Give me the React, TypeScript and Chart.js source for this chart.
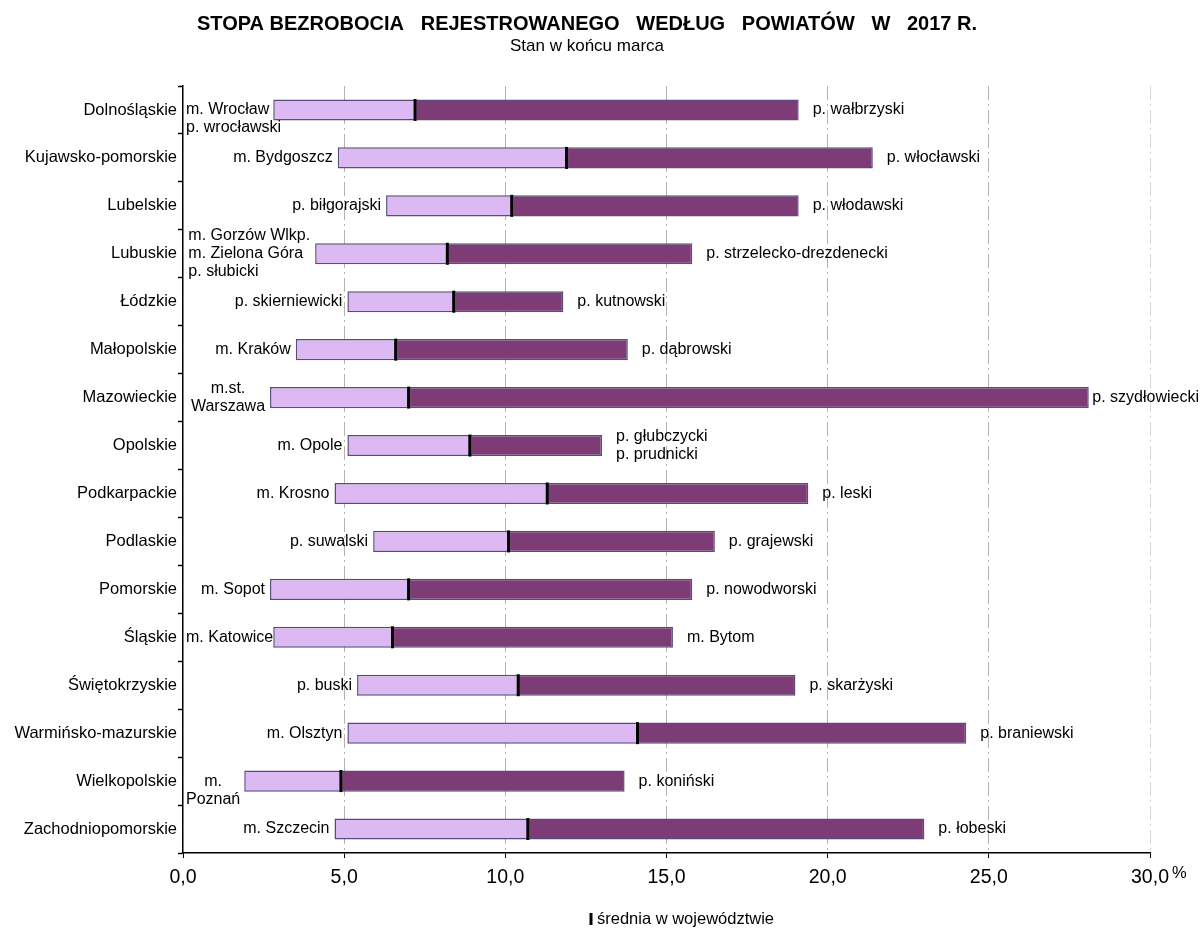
import React, { useEffect, useRef } from 'react';
import { Chart, registerables } from 'chart.js';

Chart.register(...registerables);

const categories = [
  'Dolnośląskie', 'Kujawsko-pomorskie', 'Lubelskie', 'Lubuskie', 'Łódzkie', 'Małopolskie',
  'Mazowieckie', 'Opolskie', 'Podkarpackie', 'Podlaskie', 'Pomorskie', 'Śląskie',
  'Świętokrzyskie', 'Warmińsko-mazurskie', 'Wielkopolskie', 'Zachodniopomorskie',
];
const minValues = [2.8, 4.8, 6.3, 4.1, 5.1, 3.5, 2.7, 5.1, 4.7, 5.9, 2.7, 2.8, 5.4, 5.1, 1.9, 4.7];
const avgValues = [7.2, 11.9, 10.2, 8.2, 8.4, 6.6, 7.0, 8.9, 11.3, 10.1, 7.0, 6.5, 10.4, 14.1, 4.9, 10.7];
const maxValues = [19.1, 21.4, 19.1, 15.8, 11.8, 13.8, 28.1, 13.0, 19.4, 16.5, 15.8, 15.2, 19.0, 24.3, 13.7, 23.0];
const minLabels = [
  'm. Wrocław\np. wrocławski', 'm. Bydgoszcz', 'p. biłgorajski',
  'm. Gorzów Wlkp.\nm. Zielona Góra\np. słubicki', 'p. skierniewicki', 'm. Kraków',
  'm.st.\nWarszawa', 'm. Opole', 'm. Krosno', 'p. suwalski', 'm. Sopot', 'm. Katowice',
  'p. buski', 'm. Olsztyn', 'm.\nPoznań', 'm. Szczecin',
];
const maxLabels = [
  'p. wałbrzyski', 'p. włocławski', 'p. włodawski', 'p. strzelecko-drezdenecki', 'p. kutnowski',
  'p. dąbrowski', 'p. szydłowiecki', 'p. głubczycki\np. prudnicki', 'p. leski', 'p. grajewski',
  'p. nowodworski', 'm. Bytom', 'p. skarżyski', 'p. braniewski', 'p. koniński', 'p. łobeski',
];
const titleText = 'STOPA BEZROBOCIA   REJESTROWANEGO   WEDŁUG   POWIATÓW   W   2017 R.';
const subtitleText = 'Stan w końcu marca';
const avgLegendText = 'średnia w województwie';
const unitText = '%';

const FONT = "'Liberation Sans', Arial, Helvetica, sans-serif";
const LIGHT = '#dcb9f2';
const DARK = '#7e3c77';
const BORDER = '#5a4b7d';

const labelPlugin = {
  id: 'barLabels',
  afterLayout(chart: any) {
    // title block is centred slightly right of the canvas centre
    chart.boxes.forEach((b: any) => {
      if (b.options && (b.options.text === titleText || b.options.text === subtitleText)) b.left = 24;
    });
  },
  afterDatasetsDraw(chart: any) {
    const { ctx, chartArea } = chart;
    const x = chart.scales.x;
    const y = chart.scales.y;
    const lh = 18;
    ctx.save();
    ctx.font = `16px ${FONT}`;
    ctx.fillStyle = '#000';
    ctx.textBaseline = 'middle';
    ctx.textAlign = 'left';
    const drawBlock = (text: string, anchor: number, side: 'left' | 'right', yc: number) => {
      const lines = text.split('\n');
      const widths = lines.map((l) => ctx.measureText(l).width);
      const w = Math.max(...widths);
      const wrapped = lines.some((l) => !/^(m\.|p\.)/.test(l));
      let left: number;
      let clamped = false;
      if (side === 'left') {
        left = anchor - 5 - w;
        if (left < chartArea.left + 3) {
          left = chartArea.left + 3;
          clamped = true;
        }
      } else {
        left = anchor + 14;
        if (left + w > chart.width - 2) left = chart.width - 2 - w;
      }
      const n = lines.length;
      const y0 = clamped ? yc : yc - ((n - 1) * lh) / 2;
      lines.forEach((l, j) => {
        const lx = wrapped ? left + (w - widths[j]) / 2 : left;
        ctx.fillText(l, lx, y0 + j * lh);
      });
    };
    categories.forEach((_, i) => {
      const yc = y.getPixelForValue(i);
      drawBlock(minLabels[i], x.getPixelForValue(minValues[i]), 'left', yc);
      drawBlock(maxLabels[i], x.getPixelForValue(maxValues[i]), 'right', yc);
    });
    ctx.restore();
  },
  afterDraw(chart: any) {
    const { ctx } = chart;
    const x = chart.scales.x;
    ctx.save();
    ctx.fillStyle = '#000';
    ctx.textBaseline = 'middle';
    ctx.textAlign = 'left';
    // unit next to the last tick label
    ctx.font = `16.5px ${FONT}`;
    ctx.fillText(unitText, x.right + 22, 873);
    // legend for the average marker
    ctx.strokeStyle = '#000';
    ctx.lineWidth = 3;
    ctx.beginPath();
    ctx.moveTo(591, 913);
    ctx.lineTo(591, 925);
    ctx.stroke();
    ctx.fillText(avgLegendText, 597, 919);
    ctx.restore();
  },
};

export default function App() {
  const ref = useRef<HTMLCanvasElement | null>(null);

  useEffect(() => {
    if (!ref.current) return;
    Chart.defaults.font.family = FONT;
    Chart.defaults.color = '#000';
    const chart = new Chart(ref.current, {
      type: 'bar',
      data: {
        labels: categories,
        datasets: [
          {
            type: 'line',
            label: avgLegendText,
            data: avgValues,
            showLine: false,
            pointStyle: 'line',
            rotation: 90,
            pointRadius: 11,
            pointHoverRadius: 11,
            pointBorderWidth: 3,
            pointBorderColor: '#000',
            pointBackgroundColor: '#000',
            order: 0,
          } as any,
          {
            type: 'bar',
            label: 'minimum – średnia',
            data: minValues.map((v, i) => [v, avgValues[i]]),
            backgroundColor: LIGHT,
            borderColor: BORDER,
            borderWidth: 1.5,
            borderSkipped: false,
            grouped: false,
            barPercentage: 0.88,
            categoryPercentage: 0.5,
            order: 1,
          } as any,
          {
            type: 'bar',
            label: 'średnia – maksimum',
            data: avgValues.map((v, i) => [v, maxValues[i]]),
            backgroundColor: DARK,
            borderColor: BORDER,
            borderWidth: 1.5,
            borderSkipped: false,
            grouped: false,
            barPercentage: 0.88,
            categoryPercentage: 0.5,
            order: 1,
          } as any,
        ],
      },
      options: {
        indexAxis: 'y',
        responsive: false,
        animation: false,
        events: [],
        layout: { padding: { left: 0, right: 51, top: 0, bottom: 0 } },
        scales: {
          x: {
            type: 'linear',
            min: 0,
            max: 30,
            afterFit: (s: any) => {
              s.height = 76;
            },
            ticks: {
              stepSize: 5,
              autoSkip: false,
              maxRotation: 0,
              padding: 10,
              color: '#000',
              font: { size: 19.5, lineHeight: 1 },
              callback: (v: any) => Number(v).toFixed(1).replace('.', ','),
            },
            grid: {
              color: (c: any) =>
                c.tick && c.tick.value === 0 ? 'rgba(0,0,0,0)' : c.tick && c.tick.value === 30 ? '#d6d6d6' : '#b3b3b3',
              lineWidth: 1,
              tickColor: '#000',
              tickLength: 5,
              tickWidth: 1,
            },
            border: { color: '#000', width: 1.5, dash: [14, 4, 2, 4] },
          },
          y: {
            type: 'category',
            offset: true,
            afterFit: (s: any) => {
              s.width = 183;
            },
            ticks: {
              autoSkip: false,
              padding: 1,
              color: '#000',
              font: { size: 16.5 },
            },
            grid: {
              offset: true,
              drawOnChartArea: false,
              tickLength: 5,
              tickColor: '#000',
              tickWidth: 1.5,
            },
            border: { color: '#000', width: 1.5 },
          },
        },
        plugins: {
          legend: { display: false },
          tooltip: { enabled: false },
          title: {
            display: true,
            text: titleText,
            color: '#000',
            font: { size: 20, weight: 'bold', lineHeight: 1 },
            padding: { top: 14, bottom: 0 },
          },
          subtitle: {
            display: true,
            text: subtitleText,
            color: '#000',
            font: { size: 17, weight: 'normal', lineHeight: 1 },
            padding: { top: 4, bottom: 31 },
          },
        },
      } as any,
      plugins: [labelPlugin],
    });
    return () => chart.destroy();
  }, []);

  return (
    <div style={{ position: 'absolute', left: 0, top: 0, width: 1201, height: 929, background: '#fff' }}>
      <canvas ref={ref} width={1201} height={929} style={{ display: 'block', width: 1201, height: 929 }} />
    </div>
  );
}
